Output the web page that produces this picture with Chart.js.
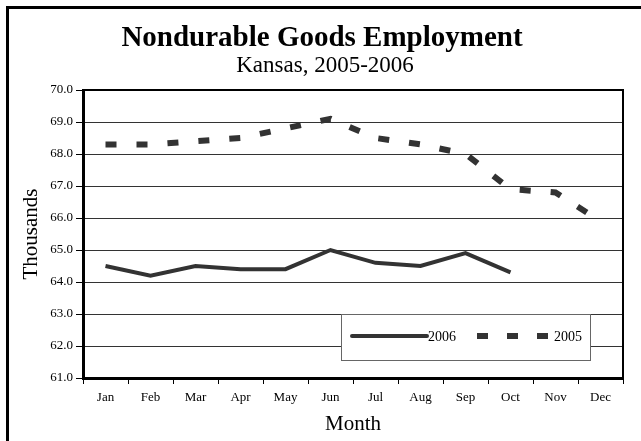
<!DOCTYPE html>
<html>
<head>
<meta charset="utf-8">
<script src="https://cdn.jsdelivr.net/npm/chart.js@4"></script>
<style>
  html, body { margin: 0; padding: 0; background: #fff; }
  #wrap { width: 641px; height: 441px; }
</style>
</head>
<body>
<div id="wrap"><canvas id="chart" width="641" height="441"></canvas></div>
<script>
const months = ["Jan", "Feb", "Mar", "Apr", "May", "Jun", "Jul", "Aug", "Sep", "Oct", "Nov", "Dec"];
const values2006 = [64.5, 64.2, 64.5, 64.4, 64.4, 65.0, 64.6, 64.5, 64.9, 64.3, null, null];
const values2005 = [68.3, 68.3, 68.4, 68.5, 68.8, 69.1, 68.5, 68.3, 68.0, 66.9, 66.8, 65.9];

const serif = "'Liberation Serif', 'Times New Roman', serif";
const ink = "#333333";

// titles, outer frame, plot frame and the boxed legend
const decor = {
  id: "decor",
  afterDraw(chart) {
    const ctx = chart.ctx;
    const a = chart.chartArea;
    ctx.save();
    // outer frame (only left and top edges fall inside the picture)
    ctx.strokeStyle = "#000";
    ctx.lineWidth = 3;
    ctx.beginPath();
    ctx.moveTo(7.5, 445);
    ctx.lineTo(7.5, 7.5);
    ctx.lineTo(645, 7.5);
    ctx.stroke();

    // plot frame top / right
    ctx.lineWidth = 2;
    ctx.beginPath();
    ctx.moveTo(a.left, a.top);
    ctx.lineTo(a.right, a.top);
    ctx.lineTo(a.right, a.bottom);
    ctx.stroke();

    ctx.fillStyle = "#000";
    ctx.textAlign = "center";
    ctx.textBaseline = "alphabetic";
    ctx.font = "bold 29px " + serif;
    ctx.fillText("Nondurable Goods Employment", 322, 46);
    ctx.font = "23px " + serif;
    ctx.fillText("Kansas, 2005-2006", 325, 72);

    // legend
    const lx = a.left + 258, ly = a.top + 224, lw = 249, lh = 46;
    ctx.fillStyle = "#fff";
    ctx.fillRect(lx, ly, lw, lh);
    ctx.strokeStyle = "#666";
    ctx.lineWidth = 1;
    ctx.strokeRect(lx + 0.5, ly + 0.5, lw, lh);
    const my = ly + 22;
    ctx.strokeStyle = ink;
    ctx.lineWidth = 4;
    ctx.lineCap = "round";
    ctx.beginPath();
    ctx.moveTo(lx + 11, my);
    ctx.lineTo(lx + 86, my);
    ctx.stroke();
    ctx.lineCap = "butt";
    ctx.lineWidth = 6;
    ctx.setLineDash([11, 19]);
    ctx.beginPath();
    ctx.moveTo(lx + 136, my);
    ctx.lineTo(lx + 208, my);
    ctx.stroke();
    ctx.setLineDash([]);
    ctx.fillStyle = "#000";
    ctx.textAlign = "left";
    ctx.textBaseline = "middle";
    ctx.font = "14px " + serif;
    ctx.fillText("2006", lx + 87, my + 1);
    ctx.fillText("2005", lx + 213, my + 1);
    ctx.restore();
  }
};

new Chart(document.getElementById("chart"), {
  type: "line",
  plugins: [decor],
  data: {
    labels: months,
    datasets: [
      {
        label: "2006",
        data: values2006,
        borderColor: ink,
        borderWidth: 4,
        pointRadius: 0,
        tension: 0,
        fill: false
      },
      {
        label: "2005",
        data: values2005,
        borderColor: ink,
        borderWidth: 6,
        borderDash: [11, 20],
        pointRadius: 0,
        tension: 0,
        fill: false
      }
    ]
  },
  options: {
    responsive: false,
    animation: false,
    layout: { padding: { top: 90, right: 18, left: 0, bottom: 0 } },
    plugins: {
      legend: { display: false },
      tooltip: { enabled: false },
      title: { display: false }
    },
    scales: {
      x: {
        offset: true,
        afterFit: s => { s.height = 63; },
        grid: {
          offset: true,
          drawOnChartArea: false,
          drawTicks: true,
          tickLength: 6,
          color: "#000",
          lineWidth: 1
        },
        border: { color: "#000", width: 3 },
        ticks: {
          color: "#000",
          padding: 6,
          font: { family: serif, size: 13 }
        },
        title: {
          display: true,
          text: "Month",
          color: "#000",
          padding: { top: 4, bottom: 4 },
          font: { family: serif, size: 21 }
        }
      },
      y: {
        min: 61,
        max: 70,
        afterFit: s => { s.width = 83; },
        grid: {
          color: ink,
          lineWidth: 1,
          drawTicks: true,
          tickLength: 7,
          tickColor: "#000"
        },
        border: { color: "#000", width: 3 },
        ticks: {
          stepSize: 1,
          color: "#000",
          padding: 3,
          font: { family: serif, size: 13 },
          callback: v => v.toFixed(1)
        },
        title: {
          display: true,
          text: "Thousands",
          color: "#000",
          padding: { top: 19, bottom: 4 },
          font: { family: serif, size: 21 }
        }
      }
    }
  }
});
</script>
</body>
</html>
